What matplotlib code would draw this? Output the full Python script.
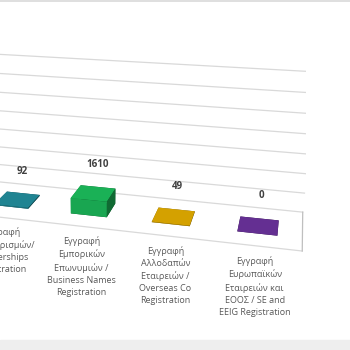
import matplotlib
matplotlib.use('Agg')
import matplotlib.pyplot as plt
from matplotlib.patches import Rectangle
from matplotlib.lines import Line2D
from matplotlib.colors import LightSource
import numpy as np

plt.rcParams['font.family'] = ['Open Sans', 'DejaVu Sans']

categories = [
    "Εγγραφή\nΣυνεταιρισμών/\nPartnerships\nRegistration",
    "Εγγραφή\nΕμπορικών\nΕπωνυμιών /\nBusiness Names\nRegistration",
    "Εγγραφή\nΑλλοδαπών\nΕταιρειών /\nOverseas Co\nRegistration",
    "Εγγραφή\nΕυρωπαϊκών\nΕταιρειών και\nΕΟΟΣ / SE and\nEEIG Registration",
]
values = [92, 1610, 49, 0]
colors = ['#2391A0', '#1DC25E', '#E8B000', '#6E33A0']
grid_values = [0, 2000, 4000, 6000, 8000, 10000, 12000, 14000]

fig = plt.figure(figsize=(3.5, 3.5), dpi=100)
fig.patch.set_facecolor('white')
ax = fig.add_axes([-0.56, -0.045, 1.62, 1.25], projection='3d')
ax.patch.set_visible(False)
ax.set_proj_type('persp', focal_length=0.32)
ax.view_init(elev=18, azim=-75)

x0, x1 = -1.5, 3.5
depth = 1.0
ax.set_xlim(x0, x1)
ax.set_ylim(0, depth)
ax.set_zlim(0, grid_values[-1])
ax.set_box_aspect((x1 - x0, 1.1, 1.75))
ax.set_axis_off()

grid_c = '#d9d9d9'
for g in grid_values:
    ax.plot([x0, x1], [depth, depth], [g, g], color=grid_c, lw=0.9)
# floor outline
ax.plot([x0, x1], [0, 0], [0, 0], color=grid_c, lw=0.9)
ax.plot([x1, x1], [0, depth], [0, 0], color='#bfbfbf', lw=0.9)

light = LightSource(azdeg=206.6, altdeg=48.6)
w = 0.45
for i, (v, c) in enumerate(zip(values, colors)):
    ax.bar3d(i - w / 2, 0.3, 0, w, 0.4, v, color=c, shade=True,
             lightsource=light, edgecolor='none')
    ax.text(i, 0.7, v + 2400, f"{v}", ha='center', va='center',
            fontsize=7, fontweight='bold', color='#404040')
    ax.text(i, 0.0, -1000, categories[i], ha='center', va='top',
            fontsize=6.5, color='#595959', linespacing=1.45)

fig.add_artist(Line2D([0, 1], [0.997, 0.997], transform=fig.transFigure,
                      color='#d9d9d9', lw=1.2))
fig.add_artist(Rectangle((0, 0), 1, 0.03, transform=fig.transFigure,
                         color='#eeeeee', zorder=10))

fig.savefig('out.png', dpi=100)
